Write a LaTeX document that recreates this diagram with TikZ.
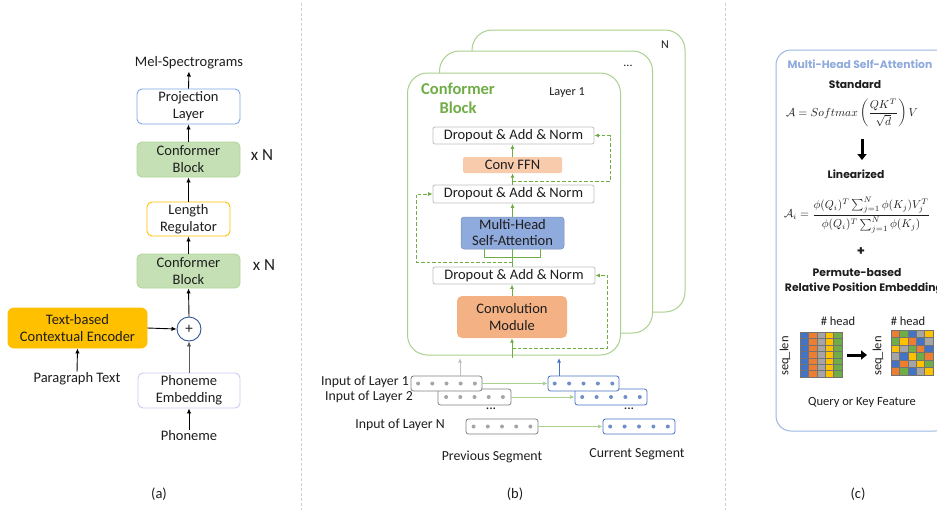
\documentclass[tikz,border=0pt]{standalone}
\usepackage[no-math]{fontspec}
\setmainfont{Carlito}
\newfontfamily\gothic{Poppins}
\usepackage{graphicx}
\usetikzlibrary{arrows.meta}
\definecolor{txt}{HTML}{1E1E1E}
\definecolor{confg}{HTML}{C5E0B4}
\definecolor{confd}{HTML}{B3D69B}
\definecolor{projb}{HTML}{7FA7E8}
\definecolor{yel}{HTML}{FFC000}
\definecolor{plusb}{HTML}{2F5597}
\definecolor{lav}{HTML}{CACAF2}
\definecolor{cardg}{HTML}{A9D18E}
\definecolor{titg}{HTML}{70AD47}
\definecolor{arrg}{HTML}{70AD47}
\definecolor{lightg}{HTML}{A9D18E}
\definecolor{dropg}{HTML}{BFBFBF}
\definecolor{ffnc}{HTML}{F8CBAD}
\definecolor{mhsac}{HTML}{8FAADC}
\definecolor{convc}{HTML}{F4B183}
\definecolor{pgray}{HTML}{808080}
\definecolor{pdot}{HTML}{A5A5A5}
\definecolor{cblue}{HTML}{4472C4}
\definecolor{cdot}{HTML}{6F8FCB}
\definecolor{panelb}{HTML}{9DB8E4}
\definecolor{ctitle}{HTML}{8FAADC}
\definecolor{gblue}{HTML}{4472C4}
\definecolor{gorange}{HTML}{ED7D31}
\definecolor{ggray}{HTML}{A5A5A5}
\definecolor{gyellow}{HTML}{FFC000}
\definecolor{ggreen}{HTML}{70AD47}
\definecolor{sepc}{HTML}{D0D0D0}
\newcommand\fsA{\fontsize{14.5}{17}\selectfont}
\newcommand\fsB{\fontsize{14.5}{16}\selectfont}
\newcommand\fsC{\fontsize{13.8}{16}\selectfont}
\newcommand\fsD{\fontsize{12.5}{14}\selectfont}
\newcommand\fsG{\gothic\bfseries\fontsize{10.8}{13}\selectfont}
\begin{document}
\begin{tikzpicture}[x=1pt,y=-1pt,
  base/.style={inner sep=0pt, text=txt, align=center},
  boxa/.style={base, rounded corners=5pt, line width=0.9pt, minimum width=103pt, minimum height=35pt, font=\fsA},
  confa/.style={boxa, fill=confg, draw=confd},
  lbl/.style={base, font=\fsA},
  arr/.style={-{Latex[length=5pt,width=4.5pt]}, line width=0.9pt, draw=black},
  card/.style={draw=cardg, fill=white, line width=1pt, rounded corners=20pt, minimum width=213pt, minimum height=282pt, inner sep=0pt},
  drop/.style={base, draw=dropg, fill=white, rounded corners=2pt, line width=0.8pt, minimum width=161pt, minimum height=17pt, font=\fsB},
  garr/.style={-{Latex[length=4.5pt,width=4pt]}, line width=0.9pt, draw=arrg},
  gline/.style={line width=0.9pt, draw=arrg},
  gdash/.style={garr, dash pattern=on 3.5pt off 2pt},
  larr/.style={-{Latex[length=4.5pt,width=4pt]}, line width=0.9pt, draw=lightg},
  pbox/.style={draw=pgray, fill=white, rounded corners=2.5pt, line width=0.8pt, minimum width=71pt, minimum height=15pt, inner sep=0pt},
  cbox/.style={pbox, draw=cblue},
  bigarr/.style={-{Triangle[length=6pt,width=9pt]}, line width=3pt, draw=black},
  cell/.style={draw=black!55, line width=0.35pt},
  sep/.style={draw=sepc, line width=0.8pt, dash pattern=on 3pt off 2pt}
]
\useasboundingbox (0,0) rectangle (937,512);
\fill[white] (0,0) rectangle (937,512);

% separators
\coordinate (s1a) at (301,3); \coordinate (s1b) at (301,510);
\coordinate (s2a) at (725,3); \coordinate (s2b) at (725,510);
\draw[sep] (s1a) -- (s1b);
\draw[sep] (s2a) -- (s2b);

% ---------------- panel (a)
\node[lbl] (mel) at (189,63) {Mel-Spectrograms};
\node[boxa, draw=projb, fill=white] (proj) at (188.5,106.5) {Projection\\Layer};
\node[confa] (conf2) at (188.5,159.5) {Conformer\\Block};
\node[base, font=\fontsize{17}{19}\selectfont] (xn2) at (262,155) {x N};
\node[boxa, draw=yel, fill=white, minimum width=83pt, minimum height=34pt] (lenreg) at (188.5,219) {Length\\Regulator};
\node[confa, minimum height=34pt] (conf1) at (188.5,271) {Conformer\\Block};
\node[base, font=\fontsize{17}{19}\selectfont] (xn1) at (264,265) {x N};
\node[base, circle, draw=plusb, fill=white, line width=0.9pt, minimum size=24pt, font=\fontsize{15}{16}\selectfont] (plus) at (189,329) {+};
\node[boxa, fill=yel, draw=yel, minimum width=139pt, minimum height=40pt, rounded corners=6pt] (enc) at (77.5,328) {Text-based\\Contextual Encoder};
\node[lbl] (para) at (77,379) {Paragraph Text};
\node[boxa, draw=lav, fill=white, minimum width=102pt] (emb) at (189,390.5) {Phoneme\\Embedding};
\node[lbl] (phon) at (189,436) {Phoneme};
\node[lbl] (la) at (159,494) {(a)};

\draw[arr, shorten >=2pt] (proj.north) -- (mel.south);
\draw[arr] (conf2.north) -- (proj.south);
\draw[arr] (lenreg.north) -- (conf2.south);
\draw[arr] (conf1.north) -- (lenreg.south);
\draw[arr] (plus.north) -- (conf1.south);
\draw[arr] (enc.east) -- (plus.west);
\draw[arr, shorten <=1pt] (para.north) -- (enc.south);
\draw[arr, draw=black!65] (emb.north) -- (plus.south);
\draw[arr, shorten <=1pt] (phon.north) -- (emb.south);

% ---------------- panel (b)
\node[card] (card3) at (578.5,171) {};
\node[card] (card2) at (546,192) {};
\node[card] (card1) at (514,214) {};
\node[base, font=\fontsize{12}{13}\selectfont] (nlab) at (665,45) {N};
\node[base, font=\fontsize{12}{13}\selectfont] (dlab) at (628,66) {...};
\node[base, font=\fontsize{12.2}{13}\selectfont] (l1lab) at (567,93) {Layer 1};
\node[base, text=titg, font=\bfseries\fontsize{16.5}{19}\selectfont] (cbtitle) at (458,98.5) {Conformer\\Block};

\node[drop] (do1) at (513.5,135.5) {Dropout \& Add \& Norm};
\node[base, fill=ffnc, rounded corners=2pt, minimum width=99pt, minimum height=16pt, font=\fsB] (ffn) at (512.5,165) {Conv FFN};
\node[drop, minimum height=18pt] (do2) at (513.5,194) {Dropout \& Add \& Norm};
\node[base, fill=mhsac, draw=mhsac!85!black, line width=0.5pt, rounded corners=3pt, minimum width=103pt, minimum height=32pt, font=\fsB] (mhsa) at (512.5,233) {Multi-Head\\Self-Attention};
\node[drop, minimum width=162pt] (do3) at (514,275.5) {Dropout \& Add \& Norm};
\node[base, fill=convc, rounded corners=5pt, minimum width=110pt, minimum height=42pt, font=\fsA] (convm) at (512,317) {Convolution\\Module};

\draw[garr] (ffn.north) -- (ffn.north |- do1.south);
\draw[garr] (do2.north -| ffn.south) -- (ffn.south);
\draw[garr] (mhsa.north) -- (mhsa.north |- do2.south);
\draw[gline] (do3.north -| mhsa.south) -- (mhsa.south);
\draw[gline] ([xshift=-28pt]mhsa.south) -- ++(0,8) -| ([xshift=28pt]mhsa.south);
\draw[garr] (convm.north) -- (convm.north |- do3.south);
\coordinate (inb) at (512,358);
\draw[garr] (inb) -- (convm.south);

\coordinate (r1s) at (512.5,181);
\coordinate (r2s) at (512.5,262);
\coordinate (r3s) at (512,348);
\draw[gdash] (r1s) -| ([xshift=16pt]do1.east) -- (do1.east);
\draw[gdash] (r2s) -| ([xshift=-16pt]do2.west) -- (do2.west);
\draw[gdash] (r3s) -| ([xshift=12pt]do3.east) -- (do3.east);

% input rows
\node[pbox, minimum width=73pt, minimum height=16pt] (prev2) at (474.5,397) {};
\node[pbox] (prev1) at (446.5,383.5) {};
\node[pbox, minimum width=72pt] (prevN) at (502,426.5) {};
\node[cbox, minimum width=72pt, minimum height=16pt] (cur2) at (611,397) {};
\node[cbox] (cur1) at (583.5,383.5) {};
\node[cbox, minimum width=72pt] (curN) at (639,426.5) {};
\foreach \b in {prev1,prev2,prevN}
  \foreach \i in {-2,...,2}
    \fill[pdot] ([xshift=\i*14.2pt]\b.center) circle (2pt);
\foreach \b in {cur1,cur2,curN}
  \foreach \i in {-2,...,2}
    \fill[cdot] ([xshift=\i*14.4pt]\b.center) circle (2pt);

\node[base, anchor=east, font=\fsC] (lab1) at (409,382) {Input of Layer 1};
\node[base, anchor=east, font=\fsC] (lab2) at (413,397) {Input of Layer 2};
\node[base, anchor=east, font=\fsC] (labN) at (445,425) {Input of Layer N};
\node[base, font=\fsC] (pd) at (491,409) {...};
\node[base, font=\fsC] (cd) at (629,409) {...};
\node[base, font=\fsC] (prevseg) at (492,457) {Previous Segment};
\node[base, font=\fsC] (curseg) at (637,454) {Current Segment};
\node[lbl] (lb) at (515,494) {(b)};

\draw[larr] (prev1.east) -- (cur1.west);
\draw[larr] (prev2.east) -- (cur2.west);
\draw[larr] (prevN.east) -- (curN.west);
\coordinate (g1) at (460,358);
\coordinate (b1) at (559,358);
\draw[garr, draw=dropg] (prev1.north -| g1) -- (g1);
\draw[garr, draw=cblue] (cur1.north -| b1) -- (b1);

% ---------------- panel (c)
\node[draw=panelb, line width=1pt, rounded corners=15pt, minimum width=174pt, minimum height=381pt, inner sep=0pt] (cpanel) at (863,240.5) {};
\node[base, text=ctitle, font=\fsG] (ctit) at (860,64) {Multi-Head Self-Attention};
\node[base, font=\fsG] (std) at (855,85) {Standard};
\node[base] (f1) at (852,113) {\resizebox{132pt}{!}{$\displaystyle\mathcal{A} = Softmax\left(\frac{QK^{T}}{\sqrt{d}}\right)V$}};
\coordinate (da1) at (862,139);
\coordinate (da2) at (862,160);
\draw[bigarr] (da1) -- (da2);
\node[base, font=\fsG] (lin) at (856,174) {Linearized};
\node[base] (f2) at (857,215) {\resizebox{146pt}{!}{$\displaystyle\mathcal{A}_i = \frac{\phi(Q_i)^T\sum_{j=1}^{N}\phi(K_j)V_j^T}{\phi(Q_i)^T\sum_{j=1}^{N}\phi(K_j)}$}};
\node[base, font=\gothic\bfseries\fontsize{13}{14}\selectfont] (cplus) at (861,252) {+};
\node[base, font=\fsG] (perm) at (857,273) {Permute-based};
\node[base, font=\fsG] (rpe) at (864,289) {Relative Position Embedding};
\node[base, font=\fsD] (h1) at (838,321) {\# head};
\node[base, font=\fsD] (h2) at (908,321) {\# head};
\node[base, font=\fsD, rotate=90] (sl1) at (785,356) {seq\_len};
\node[base, font=\fsD, rotate=90] (sl2) at (878,356) {seq\_len};
\foreach \c [count=\i from 0] in {gblue,gorange,ggray,gyellow,ggreen}
  \foreach \r in {0,...,6}
    \filldraw[cell, fill=\c] (800+\i*8.4, 332+\r*6.43) rectangle ++(8.4,6.43);
\foreach \row [count=\r from 0] in {{gorange,ggreen,gblue,ggray,gyellow},{ggreen,gyellow,gorange,gblue,ggray},{gyellow,ggray,ggreen,gorange,gblue},{ggray,gblue,gyellow,ggreen,gorange},{gblue,gorange,ggray,gyellow,ggreen},{gorange,ggreen,gblue,ggray,gyellow}}
  \foreach \c [count=\i from 0] in \row
    \filldraw[cell, fill=\c] (891+\i*8.4, 330+\r*7.5) rectangle ++(8.4,7.5);
\coordinate (ha1) at (847,355);
\coordinate (ha2) at (867,355);
\draw[bigarr] (ha1) -- (ha2);
\node[base, font=\fsD] (qk) at (862,402) {Query or Key Feature};
\node[lbl] (lc) at (858,494) {(c)};
\end{tikzpicture}
\end{document}
